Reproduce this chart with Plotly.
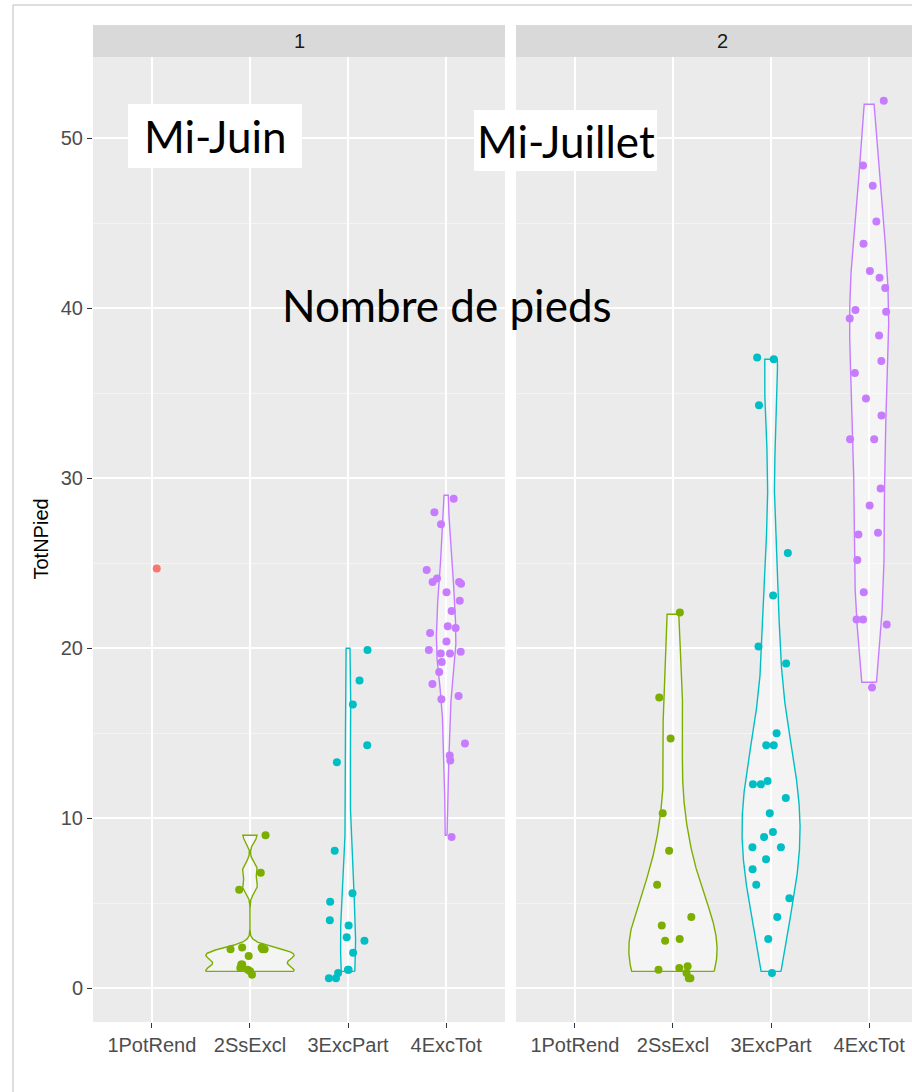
import numpy as np
import plotly.graph_objects as go

# ---- data -----------------------------------------------------------------
categories = ["1PotRend", "2SsExcl", "3ExcPart", "4ExcTot"]
group_colors = ["#F8766D", "#7CAE00", "#00BFC4", "#C77CFF"]
periods = ["1", "2"]

# Period 1 (mid-June): TotNPied per plot (dots shown with their vertical jitter)
p1_potrend = [24.7]
p1_ssexcl = [9.0, 6.8, 5.8, 2.4, 2.3, 2.3, 2.3, 2.4, 1.9, 1.4, 1.4, 1.2, 1.1, 1.0, 0.8]
p1_excpart = [19.9, 18.1, 16.7, 14.3, 13.3, 8.1, 5.6, 5.1, 4.0, 3.7, 3.0, 2.8,
              2.1, 1.1, 1.1, 0.9, 0.6, 0.6]
p1_exctot = [28.8, 28.0, 27.3, 24.6, 23.9, 23.9, 24.1, 23.8, 23.3, 22.8, 22.2,
             21.2, 20.9, 21.3, 20.4, 19.8, 19.7, 19.7, 19.9, 19.2, 18.6, 17.9,
             17.2, 17.0, 14.4, 13.7, 13.4, 8.9]

# Period 2 (mid-July)
p2_potrend = []
p2_ssexcl = [22.1, 17.1, 14.7, 10.3, 8.1, 6.1, 4.2, 3.7, 2.9, 2.8, 1.3, 1.2,
             1.1, 0.9, 0.6, 0.6]
p2_excpart = [37.0, 37.1, 34.3, 25.6, 23.1, 20.1, 19.1, 15.0, 14.3, 14.3, 12.2,
              12.0, 12.0, 11.2, 10.3, 9.2, 8.9, 8.3, 8.3, 7.6, 7.0, 6.1, 5.3,
              4.2, 2.9, 0.9]
p2_exctot = [52.2, 48.4, 47.2, 45.1, 43.8, 42.2, 41.8, 41.2, 39.9, 39.8, 39.4,
             38.4, 36.9, 36.2, 34.7, 33.7, 32.3, 32.3, 29.4, 28.4, 26.8, 26.7,
             25.2, 23.3, 21.7, 21.7, 21.4, 17.7]

panel_data = [
    [p1_potrend, p1_ssexcl, p1_excpart, p1_exctot],
    [p2_potrend, p2_ssexcl, p2_excpart, p2_exctot],
]

y_ticks = [0, 10, 20, 30, 40, 50]

# ---- page geometry (pixels) ------------------------------------------------
W, H = 912, 1092
PANEL_X = [(93, 505), (516, 912)]
PANEL_TOP, PANEL_BOTTOM = 57, 1022
STRIP_TOP = 25
VIOLIN_HALF = 0.45


def fx(x):
    return x / W


def fy(y):
    return 1 - y / H


def bw_nrd0(v):
    v = np.asarray(v, float)
    sd = v.std(ddof=1)
    q1, q3 = np.percentile(v, [25, 75])
    lo = min(sd, (q3 - q1) / 1.34)
    if lo <= 0:
        lo = sd if sd > 0 else 1.0
    return 0.9 * lo * len(v) ** -0.2


def trimmed_kde(counts, n=512):
    """Gaussian KDE (nrd0 bandwidth) over the range of the counts."""
    counts = np.asarray(counts, float)
    bw = bw_nrd0(counts)
    grid = np.linspace(counts.min(), counts.max(), n)
    z = (grid[:, None] - counts[None, :]) / bw
    dens = np.exp(-0.5 * z ** 2).sum(axis=1) / (len(counts) * bw * np.sqrt(2 * np.pi))
    return grid, dens


fig = go.Figure()
rng = np.random.default_rng(7)
font_axis = "Liberation Sans, Arial, sans-serif"

for p, groups in enumerate(panel_data):
    xa = "x" if p == 0 else "x2"
    ya = "y" if p == 0 else "y2"
    # densities of the whole-number counts; widths scaled per panel (equal areas)
    kdes = {}
    for k, vals in enumerate(groups):
        if len(vals) >= 2:
            kdes[k] = trimmed_kde(np.round(vals))
    dmax = max(d.max() for _, d in kdes.values())
    for k, (grid, dens) in kdes.items():
        half = dens / dmax * VIOLIN_HALF
        xs = np.concatenate([(k + 1) + half, ((k + 1) - half)[::-1], [(k + 1) + half[0]]])
        ys = np.concatenate([grid, grid[::-1], [grid[0]]])
        fig.add_trace(go.Scatter(
            x=xs, y=ys, xaxis=xa, yaxis=ya, mode="lines", fill="toself",
            fillcolor="rgba(255,255,255,0.45)",
            line=dict(color=group_colors[k], width=1.4),
            hoverinfo="skip", showlegend=False,
        ))
    # jittered points
    for k, vals in enumerate(groups):
        if not vals:
            continue
        xs = (k + 1) + rng.uniform(-0.2, 0.2, len(vals))
        fig.add_trace(go.Scatter(
            x=xs, y=vals, xaxis=xa, yaxis=ya, mode="markers",
            marker=dict(color=group_colors[k], size=8),
            showlegend=False, hoverinfo="y",
        ))

all_vals = [v for g in panel_data for grp in g for v in grp]
ymin, ymax = min(all_vals), max(all_vals)
pad = 0.05 * (ymax - ymin)
y_range = [ymin - pad, ymax + pad]

unit_px = (PANEL_X[0][1] - PANEL_X[0][0]) / 4.2
x_range1 = [0.4, 4.6]
x_range2 = [0.4, 0.4 + (PANEL_X[1][1] - PANEL_X[1][0]) / unit_px]

tick_font = dict(family=font_axis, size=20, color="#4D4D4D")
common_x = dict(
    tickvals=[1, 2, 3, 4], ticktext=categories, showgrid=True,
    gridcolor="white", gridwidth=2, zeroline=False, ticks="outside",
    ticklen=5, tickwidth=1, tickcolor="#333333", showline=False,
    tickfont=tick_font, fixedrange=True,
)
common_y = dict(
    range=y_range, tickvals=y_ticks, showgrid=True, gridcolor="white",
    gridwidth=2, zeroline=False, showline=False,
    minor=dict(dtick=5, tick0=0, showgrid=True, gridcolor="#F4F4F4",
               gridwidth=1),
    domain=[fy(PANEL_BOTTOM), fy(PANEL_TOP)], fixedrange=True,
)

fig.update_layout(
    width=W, height=H, margin=dict(l=0, r=0, t=0, b=0),
    paper_bgcolor="white", plot_bgcolor="#EBEBEB",
    xaxis=dict(domain=[fx(PANEL_X[0][0]), fx(PANEL_X[0][1])], range=x_range1,
               anchor="y", **common_x),
    xaxis2=dict(domain=[fx(PANEL_X[1][0]), fx(PANEL_X[1][1])], range=x_range2,
                anchor="y2", **common_x),
    yaxis=dict(anchor="x", ticks="outside", ticklen=5, tickwidth=1,
               tickcolor="#333333", tickfont=tick_font, **common_y),
    yaxis2=dict(anchor="x2", matches="y", showticklabels=False, ticks="",
                **common_y),
)

shapes = [
    # outer frame
    dict(type="rect", xref="paper", yref="paper", x0=fx(13), x1=fx(W + 20),
         y0=fy(H + 20), y1=fy(5), line=dict(color="#BDBDBD", width=1),
         fillcolor="rgba(0,0,0,0)", layer="below"),
]
annotations = []
# facet strips
for p, (x0, x1) in enumerate(PANEL_X):
    shapes.append(dict(type="rect", xref="paper", yref="paper",
                       x0=fx(x0), x1=fx(x1 + (20 if p == 1 else 0)),
                       y0=fy(PANEL_TOP), y1=fy(STRIP_TOP),
                       fillcolor="#D9D9D9", line=dict(width=0), layer="below"))
    annotations.append(dict(xref="paper", yref="paper",
                            x=fx((x0 + (x1 if p == 0 else x0 + 412)) / 2),
                            y=fy((PANEL_TOP + STRIP_TOP) / 2),
                            xanchor="center", yanchor="middle",
                            text=periods[p], showarrow=False,
                            font=dict(family=font_axis, size=20,
                                      color="#1A1A1A")))

# y-axis title
annotations.append(dict(xref="paper", yref="paper", x=fx(40),
                        y=fy((PANEL_TOP + PANEL_BOTTOM) / 2), text="TotNPied",
                        xanchor="center", yanchor="middle",
                        textangle=-90, showarrow=False,
                        font=dict(family=font_axis, size=20, color="black")))

# text boxes
label_font = dict(family="Lato, Noto Sans, sans-serif", size=44, color="black")
boxes = [("Mi-Juin", (128, 302, 104, 168)), ("Mi-Juillet", (474, 657, 110, 171))]
for text, (bx0, bx1, by0, by1) in boxes:
    shapes.append(dict(type="rect", xref="paper", yref="paper",
                       x0=fx(bx0), x1=fx(bx1), y0=fy(by1), y1=fy(by0),
                       fillcolor="white", line=dict(width=0), layer="above"))
    annotations.append(dict(xref="paper", yref="paper", x=fx((bx0 + bx1) / 2),
                            y=fy((by0 + by1) / 2), xanchor="center",
                            yanchor="middle", text=text, showarrow=False,
                            font=label_font))
annotations.append(dict(xref="paper", yref="paper", x=fx(447), y=fy(305),
                        xanchor="center", yanchor="middle",
                        text="Nombre de pieds", showarrow=False,
                        font=label_font))

fig.update_layout(shapes=shapes, annotations=annotations)
fig.write_html("out.html")
